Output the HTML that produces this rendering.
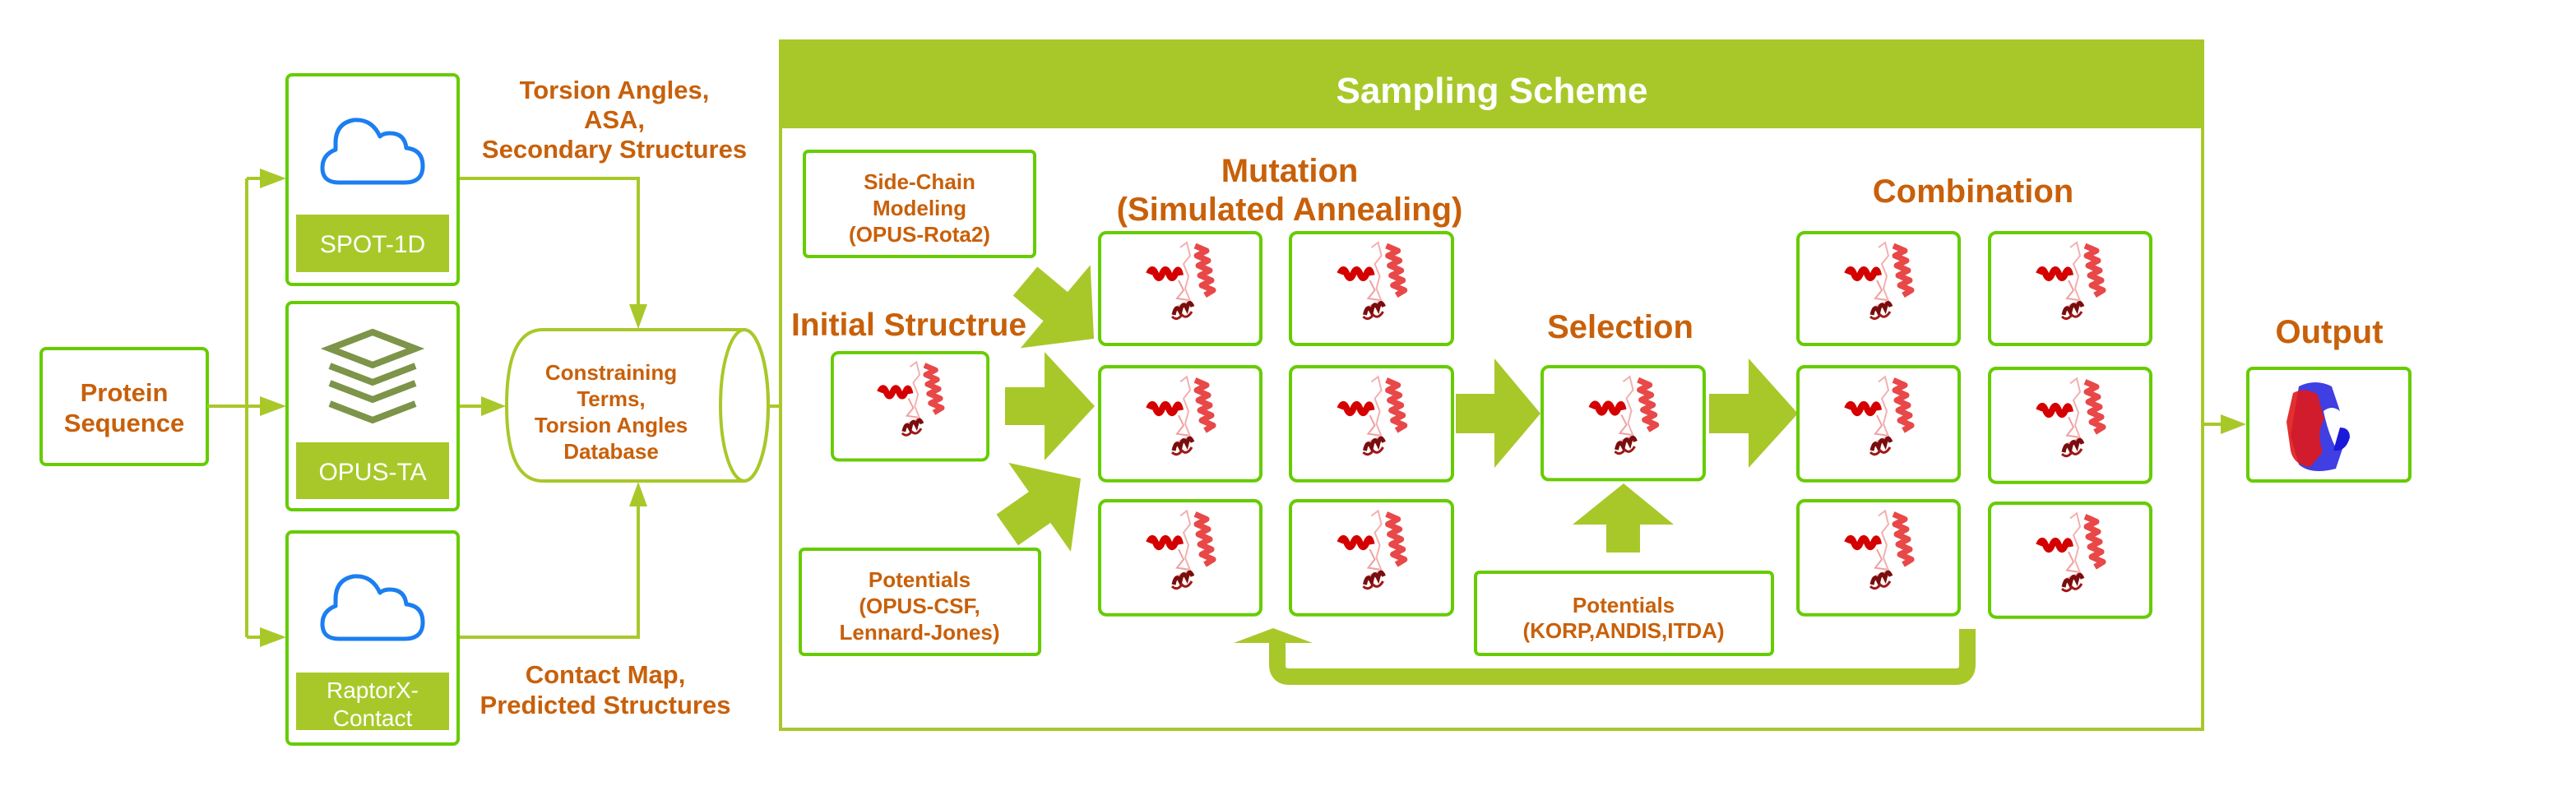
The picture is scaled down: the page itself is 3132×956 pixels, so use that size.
<!DOCTYPE html>
<html><head><meta charset="utf-8"><style>
html,body{margin:0;padding:0;background:#fff;}
svg{display:block;}
text{font-family:"Liberation Sans",sans-serif;font-weight:bold;}
.o{fill:#c8600a;}
</style></head><body>
<svg width="3132" height="956" viewBox="0 0 3132 956" xmlns="http://www.w3.org/2000/svg">
<defs>
<g id="prot">
  <path d="M100 20 L108 14 L112 30 L104 40 L110 55 L106 70 L112 85 L96 92" fill="none" stroke="#f3b0b0" stroke-width="2"/>
  <path d="M118 18 l14 6 l-12 6 l14 6 l-12 6 l14 6 l-12 6 l14 6 l-12 6 l14 6 l-10 6" fill="none" stroke="#e84848" stroke-width="7" stroke-linejoin="round"/>
  <path d="M62 52 q4 -10 8 0 q4 10 8 0 q4 -10 8 0 q4 10 8 0 q4 -10 6 2" fill="none" stroke="#d40000" stroke-width="8"/>
  <path d="M98 60 L104 72 L96 82 L110 84" fill="none" stroke="#f0a0a0" stroke-width="2"/>
  <path d="M92 102 q3 -14 8 -4 q3 -14 8 -4 q3 -12 7 -2" fill="none" stroke="#7a0d0d" stroke-width="5"/>
  <path d="M90 104 q6 6 12 -2 q6 6 12 -4" fill="none" stroke="#a01818" stroke-width="3"/>
</g>
<g id="pbox">
  <rect x="2" y="2" width="196" height="136" rx="8" fill="#fff" stroke="#66cc00" stroke-width="4"/>
  <use href="#prot"/>
</g>
<g id="cloud">
  <path d="M-40 38 L40 38 Q62 38 62 18 Q62 -2 42 -4 Q40 -22 22 -22 Q14 -22 10 -18 Q0 -40 -22 -38 Q-44 -34 -44 -10 L-44 -2 Q-60 4 -60 20 Q-60 38 -40 38 Z" fill="none" stroke="#1c7ef0" stroke-width="5" stroke-linejoin="round"/>
</g>
</defs>

<!-- left: Protein Sequence -->
<rect x="50" y="424" width="202" height="141" rx="6" fill="#fff" stroke="#66cc00" stroke-width="4"/>
<text class="o" x="151" y="488" font-size="31" text-anchor="middle">Protein</text>
<text class="o" x="151" y="525" font-size="31" text-anchor="middle">Sequence</text>

<!-- branch lines -->
<g stroke="#a8c82a" stroke-width="4" fill="none">
  <path d="M252 494 L340 494"/>
  <path d="M300 217 L300 775"/>
  <path d="M300 217 L340 217"/>
  <path d="M300 775 L340 775"/>
  <path d="M557 217 L776 217 L776 380"/>
  <path d="M557 494 L598 494"/>
  <path d="M557 775 L776 775 L776 606"/>
  <path d="M934 494 L992 494"/>
  <path d="M2617 516 L2712 516"/>
</g>
<g fill="#a8c82a">
  <polygon points="316,205 348,217 316,229"/>
  <polygon points="316,482 348,494 316,506"/>
  <polygon points="316,763 348,775 316,787"/>
  <polygon points="765,370 787,370 776,400"/>
  <polygon points="765,616 787,616 776,586"/>
  <polygon points="585,482 615,494 585,506"/>
  <polygon points="980,482 1010,494 980,506"/>
  <polygon points="2700,504 2731,516 2700,528"/>
</g>

<!-- SPOT-1D -->
<rect x="349" y="91" width="208" height="255" rx="6" fill="#fff" stroke="#66cc00" stroke-width="4"/>
<use href="#cloud" x="452" y="184"/>
<rect x="360" y="261" width="186" height="70" fill="#a8c82a"/>
<text x="453" y="307" font-size="30" fill="#fff" text-anchor="middle" style="font-weight:normal">SPOT-1D</text>

<!-- OPUS-TA -->
<rect x="349" y="368" width="208" height="252" rx="6" fill="#fff" stroke="#66cc00" stroke-width="4"/>
<g fill="none" stroke="#7d9449" stroke-width="8" stroke-linejoin="miter">
  <polygon points="453,404 505,424 453,444 401,424"/>
  <polyline points="401,445 453,465 505,445"/>
  <polyline points="401,466 453,486 505,466"/>
  <polyline points="401,491 453,511 505,491"/>
</g>
<rect x="360" y="538" width="186" height="69" fill="#a8c82a"/>
<text x="453" y="584" font-size="30" fill="#fff" text-anchor="middle" style="font-weight:normal">OPUS-TA</text>

<!-- RaptorX -->
<rect x="349" y="647" width="208" height="258" rx="6" fill="#fff" stroke="#66cc00" stroke-width="4"/>
<use href="#cloud" x="452" y="739"/>
<rect x="360" y="818" width="186" height="70" fill="#a8c82a"/>
<text x="453" y="849" font-size="28" fill="#fff" text-anchor="middle" style="font-weight:normal">RaptorX-</text>
<text x="453" y="883" font-size="28" fill="#fff" text-anchor="middle" style="font-weight:normal">Contact</text>

<!-- labels -->
<text class="o" x="747" y="120" font-size="31" text-anchor="middle">Torsion Angles,</text>
<text class="o" x="747" y="156" font-size="31" text-anchor="middle">ASA,</text>
<text class="o" x="747" y="192" font-size="31" text-anchor="middle">Secondary Structures</text>
<text class="o" x="736" y="831" font-size="31" text-anchor="middle">Contact Map,</text>
<text class="o" x="736" y="868" font-size="31" text-anchor="middle">Predicted Structures</text>

<!-- cylinder -->
<path d="M660 401 L905 401 A29 92 0 0 1 905 585 L660 585 Q616 585 616 493 Q616 401 660 401 Z" fill="#fff" stroke="#a8c82a" stroke-width="4"/>
<ellipse cx="905" cy="493" rx="29" ry="92" fill="none" stroke="#a8c82a" stroke-width="4"/>
<text class="o" x="743" y="462" font-size="26" text-anchor="middle">Constraining</text>
<text class="o" x="743" y="494" font-size="26" text-anchor="middle">Terms,</text>
<text class="o" x="743" y="526" font-size="26" text-anchor="middle">Torsion Angles</text>
<text class="o" x="743" y="558" font-size="26" text-anchor="middle">Database</text>

<!-- Sampling scheme frame -->
<rect x="949" y="50" width="1729" height="837" fill="#fff" stroke="#a8c82a" stroke-width="4"/>
<rect x="947" y="48" width="1733" height="108" fill="#a8c82a"/>
<text x="1814" y="125" font-size="44" fill="#fff" text-anchor="middle">Sampling Scheme</text>

<!-- side chain box -->
<rect x="978" y="184" width="280" height="128" rx="5" fill="#fff" stroke="#66cc00" stroke-width="4"/>
<text class="o" x="1118" y="230" font-size="26" text-anchor="middle">Side-Chain</text>
<text class="o" x="1118" y="262" font-size="26" text-anchor="middle">Modeling</text>
<text class="o" x="1118" y="294" font-size="26" text-anchor="middle">(OPUS-Rota2)</text>

<!-- potentials left -->
<rect x="973" y="668" width="291" height="128" rx="5" fill="#fff" stroke="#66cc00" stroke-width="4"/>
<text class="o" x="1118" y="714" font-size="26" text-anchor="middle">Potentials</text>
<text class="o" x="1118" y="746" font-size="26" text-anchor="middle">(OPUS-CSF,</text>
<text class="o" x="1118" y="778" font-size="26" text-anchor="middle">Lennard-Jones)</text>

<!-- initial structure -->
<text class="o" x="1105" y="408" font-size="39" text-anchor="middle">Initial Structrue</text>
<use href="#pbox" transform="translate(1010,427) scale(0.965,0.96)"/>

<!-- mutation -->
<text class="o" x="1568" y="221" font-size="40" text-anchor="middle">Mutation</text>
<text class="o" x="1568" y="268" font-size="40" text-anchor="middle">(Simulated Annealing)</text>
<use href="#pbox" transform="translate(1335,281) scale(1,1)"/>
<use href="#pbox" transform="translate(1567,281) scale(1.005,1)"/>
<use href="#pbox" transform="translate(1335,444) scale(1,1.02)"/>
<use href="#pbox" transform="translate(1567,444) scale(1.005,1.02)"/>
<use href="#pbox" transform="translate(1335,607) scale(1,1.02)"/>
<use href="#pbox" transform="translate(1567,607) scale(1.005,1.02)"/>

<!-- big arrows -->
<g fill="#a8c82a">
  <polygon points="1222,471 1270,471 1270,428 1331,494 1270,560 1270,517 1222,517"/>
  <polygon points="-109,-23 -61,-23 -61,-66 0,0 -61,66 -61,23 -109,23" transform="translate(1330,412) rotate(40)"/>
  <polygon points="-109,-23 -61,-23 -61,-66 0,0 -61,66 -61,23 -109,23" transform="translate(1314,582) rotate(-35)"/>
  <polygon points="1770,479 1817,479 1817,436 1873,503 1817,569 1817,527 1770,527"/>
  <polygon points="2078,479 2126,479 2126,436 2186,503 2126,569 2126,527 2078,527"/>
  <polygon points="1974,588 2035,638 1994,638 1994,672 1953,672 1953,638 1912,638"/>
</g>

<!-- selection -->
<text class="o" x="1970" y="411" font-size="40" text-anchor="middle">Selection</text>
<use href="#pbox" transform="translate(1873,444) scale(1.005,1.01)"/>

<!-- potentials KORP -->
<rect x="1794" y="696" width="361" height="100" rx="5" fill="#fff" stroke="#66cc00" stroke-width="4"/>
<text class="o" x="1974" y="745" font-size="26" text-anchor="middle">Potentials</text>
<text class="o" x="1974" y="776" font-size="26" text-anchor="middle">(KORP,ANDIS,ITDA)</text>

<!-- combination -->
<text class="o" x="2399" y="246" font-size="40" text-anchor="middle">Combination</text>
<use href="#pbox" transform="translate(2184,281) scale(1,1)"/>
<use href="#pbox" transform="translate(2417,281) scale(1,1)"/>
<use href="#pbox" transform="translate(2184,444) scale(1,1.02)"/>
<use href="#pbox" transform="translate(2417,446) scale(1,1.02)"/>
<use href="#pbox" transform="translate(2184,607) scale(1,1.02)"/>
<use href="#pbox" transform="translate(2417,610) scale(1,1.02)"/>

<!-- feedback arrow -->
<path d="M2392 765 L2392 808 Q2392 823 2377 823 L1568 823 Q1553 823 1553 808 L1553 778" fill="none" stroke="#a8c82a" stroke-width="20"/>
<polygon points="1500,782 1548,764 1596,782" fill="#a8c82a"/>

<!-- output -->
<text class="o" x="2832" y="417" font-size="40" text-anchor="middle">Output</text>
<rect x="2733" y="448" width="197" height="137" rx="6" fill="#fff" stroke="#66cc00" stroke-width="4"/>
<g>
  <path d="M2795 470 q20 -10 40 0 l10 30 q-5 20 5 40 l-10 30 q-30 8 -45 -5 l-10 -35 z" fill="#2a2ae0" opacity="0.9"/>
  <path d="M2788 478 q15 -8 30 2 l8 30 q-10 15 -2 40 l-15 18 q-20 -2 -24 -20 l-5 -35 z" fill="#e01818" opacity="0.9"/>
  <path d="M2825 500 q10 -8 20 0 q5 20 -5 45 q-10 -20 -15 -45z" fill="#fff"/>
  <path d="M2845 520 q12 0 12 12 q-5 18 -20 16 z" fill="#1a1ad8"/>
</g>
</svg>
</body></html>
